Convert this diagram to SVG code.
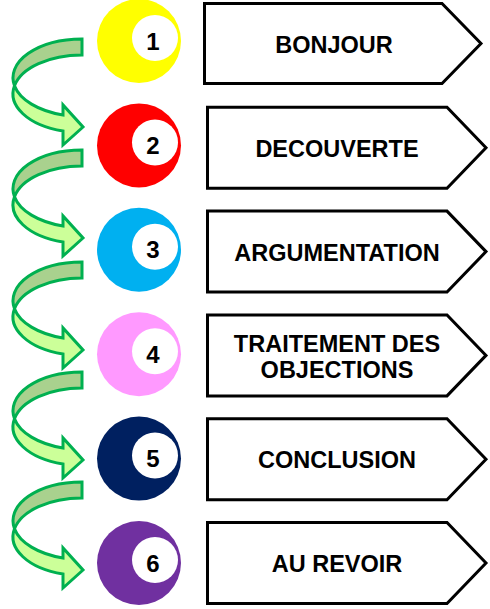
<svg xmlns="http://www.w3.org/2000/svg" width="490" height="609" viewBox="0 0 490 609">
<defs>
<style>
.box{fill:#fff;stroke:#000;stroke-width:3;stroke-linejoin:miter}
.lbl{font-family:"Liberation Sans",Arial,sans-serif;font-weight:bold;font-size:23.5px;fill:#000;text-anchor:middle}
.num{font-family:"Liberation Sans",Arial,sans-serif;font-weight:bold;font-size:24px;fill:#000;text-anchor:middle}
.inner{fill:#fff}
.back{fill:#a9d18e;stroke:#00b050;stroke-width:3;stroke-linejoin:miter}
.front{fill:#ccff99;stroke:#00b050;stroke-width:3;stroke-linejoin:miter}
</style>
<g id="curvedArrow">
<path class="back" d="M82,0 A69,38.75 0 0 0 14.49,46.75 A69,38.75 0 0 1 82,16 Z"/>
<path class="front" d="M14.49,46.75 A69,38.75 0 0 0 63,92 L63,106 L83,88 L63,66 L63,76 A69,38.75 0 0 1 14.49,46.75 Z"/>
</g>
</defs>
<rect width="490" height="609" fill="#fff"/>
<g id="connectors">
<use href="#curvedArrow" transform="translate(0,39)"/>
<use href="#curvedArrow" transform="translate(0,150)"/>
<use href="#curvedArrow" transform="translate(0,262)"/>
<use href="#curvedArrow" transform="translate(0,372)"/>
<use href="#curvedArrow" transform="translate(0,482)"/>
</g>
<g id="step1">
<circle cx="139" cy="41" r="42" fill="#ffff00"/>
<circle class="inner" cx="155" cy="38" r="23"/>
<text class="num" x="153" y="49.5">1</text>
<path class="box" d="M204.5,3.5 H442 L481,43.5 L442,83.5 H204.5 Z"/>
<text class="lbl" x="334" y="53">BONJOUR</text>
</g>
<g id="step2">
<circle cx="139" cy="145.4" r="42" fill="#ff0000"/>
<circle class="inner" cx="155" cy="142.4" r="23"/>
<text class="num" x="153" y="153.9">2</text>
<path class="box" d="M207.5,107.3 H447 L486,147.8 L447,188.3 H207.5 Z"/>
<text class="lbl" x="337" y="156.8">DECOUVERTE</text>
</g>
<g id="step3">
<circle cx="139" cy="249.8" r="42" fill="#00b0f0"/>
<circle class="inner" cx="155" cy="246.8" r="23"/>
<text class="num" x="153" y="258.3">3</text>
<path class="box" d="M207.5,211.1 H447 L486,251.6 L447,292.1 H207.5 Z"/>
<text class="lbl" x="337" y="260.6">ARGUMENTATION</text>
</g>
<g id="step4">
<circle cx="139" cy="354.2" r="42" fill="#ff99ff"/>
<circle class="inner" cx="155" cy="351.2" r="23"/>
<text class="num" x="153" y="362.7">4</text>
<path class="box" d="M207.5,314.9 H447 L486,355.4 L447,395.9 H207.5 Z"/>
<text class="lbl" x="337" y="352">TRAITEMENT DES</text>
<text class="lbl" x="337" y="378">OBJECTIONS</text>
</g>
<g id="step5">
<circle cx="139" cy="458.6" r="42" fill="#002060"/>
<circle class="inner" cx="155" cy="455.6" r="23"/>
<text class="num" x="153" y="467.1">5</text>
<path class="box" d="M207.5,418.7 H447 L486,459.2 L447,499.7 H207.5 Z"/>
<text class="lbl" x="337" y="468.2">CONCLUSION</text>
</g>
<g id="step6">
<circle cx="139" cy="563" r="42" fill="#7030a0"/>
<circle class="inner" cx="155" cy="560" r="23"/>
<text class="num" x="153" y="571.5">6</text>
<path class="box" d="M207.5,522.5 H447 L486,563 L447,603.5 H207.5 Z"/>
<text class="lbl" x="337" y="572">AU REVOIR</text>
</g>
</svg>
